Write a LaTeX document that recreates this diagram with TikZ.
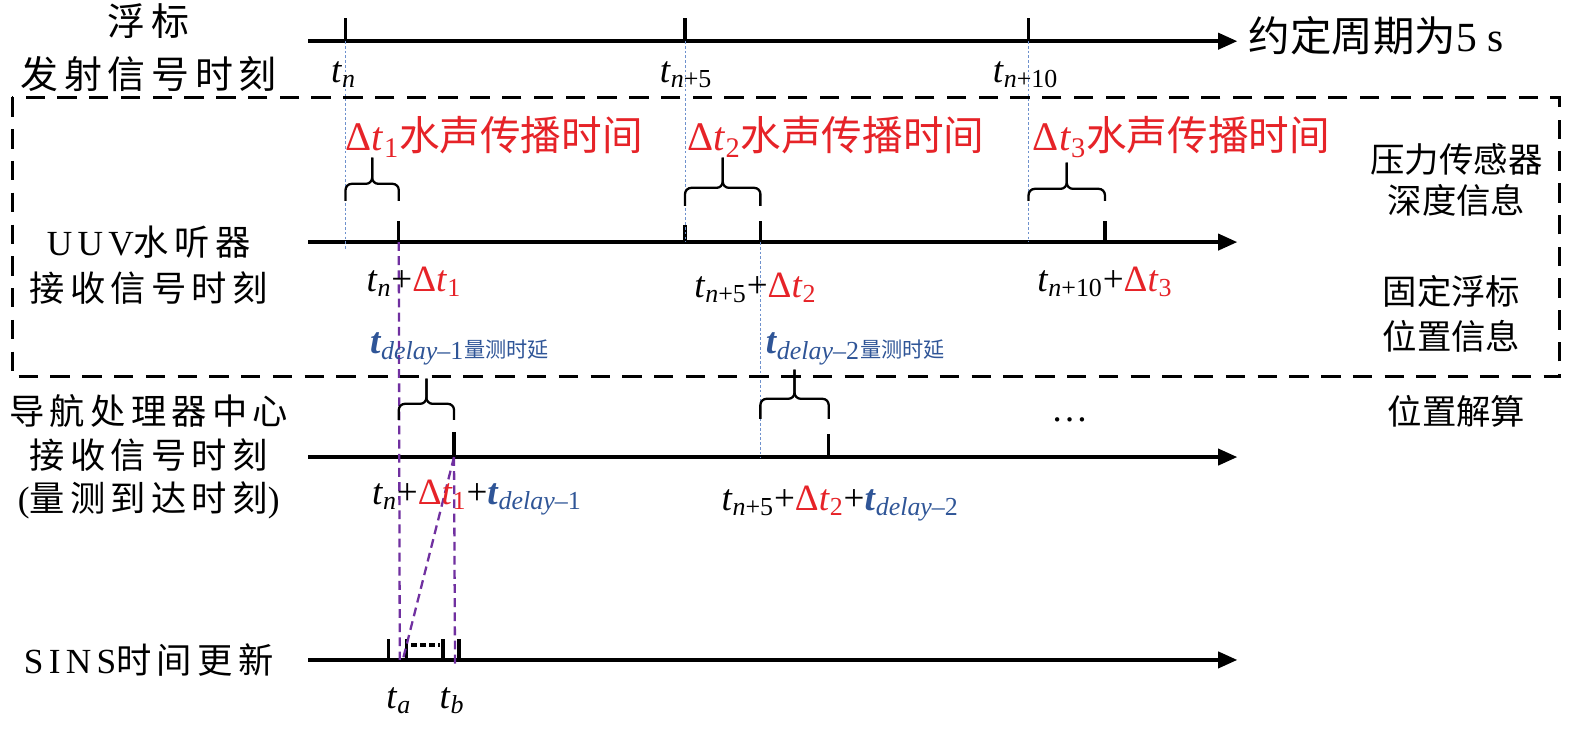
\documentclass[tikz,border=0pt]{standalone}
\usepackage{fontspec}
\setmainfont{Liberation Serif}
\newfontfamily\cjk{Noto Sans CJK SC}
\newfontfamily\cjkwide[LetterSpace=15]{Noto Sans CJK SC}
\newfontfamily\rmwide[LetterSpace=15]{Liberation Serif}
\usepackage{xcolor}
\usetikzlibrary{arrows.meta,positioning}

\definecolor{dtred}{RGB}{230,35,40}
\definecolor{delayblue}{RGB}{47,85,151}
\definecolor{guideblue}{RGB}{110,145,205}
\definecolor{lagpurple}{RGB}{112,48,160}

\newcommand{\tv}[1]{\textit{t}\textsubscript{#1}}
\newcommand{\dt}[1]{\textcolor{dtred}{\symbol{"0394}\tv{#1}}}
\newcommand{\td}[1]{\textcolor{delayblue}{\textbf{\textit{t}}\textsubscript{\textit{delay}–#1}}}
% brace over an interval: x1, x2, foot, bar, tip
\newcommand{\timebrace}[5]{%
  \draw[brc] (#1,#3) -- (#1,#4) -- ({(#1+#2)/2},#4) -- ({(#1+#2)/2},#5);
  \draw[brc] (#2,#3) -- (#2,#4) -- ({(#1+#2)/2},#4) -- ({(#1+#2)/2},#5);}

\begin{document}
\begin{tikzpicture}[x=0.02cm,y=-0.02cm,font=\fontsize{21}{25}\selectfont,
  axis/.style={line width=2.4pt,-{Triangle[length=11pt,width=9pt]}},
  tickmark/.style={line width=1.8pt},
  guide/.style={guideblue,line width=0.6pt,dash pattern=on 1.5pt off 1.2pt},
  lag/.style={lagpurple,line width=1.3pt,dash pattern=on 5pt off 3pt},
  brc/.style={line width=1.3pt,rounded corners=3.5pt},
  rowlabel/.style={align=center,inner sep=0pt},
  sidelabel/.style={align=center,inner sep=0pt},
  redlabel/.style={anchor=base west,inner sep=0pt,text=dtred,font=\fontsize{23}{26}\selectfont},
  timelabel/.style={anchor=base,inner sep=0pt}]
    \useasboundingbox (0,0) rectangle (1568,725);

    % Row names on the left and notes on the right
    \node[rowlabel,font=\fontsize{21.5}{30}\selectfont\cjkwide] (buoy) at (148,47) {浮标\\发射信号时刻};
    \node[rowlabel,font=\fontsize{20}{26}\selectfont\cjkwide] (uuv) at (148,264) {{\rmwide UUV}水听器\\接收信号时刻};
    \node[rowlabel,font=\fontsize{20}{24.7}\selectfont\cjkwide] (nav) at (148,455) {导航处理器中心\\接收信号时刻\\{\rmwide(}量测到达时刻{\rmwide)}};
    \node[rowlabel,font=\fontsize{20}{24}\selectfont\cjkwide] (sins) at (148,657) {{\rmwide SINS}时间更新};
    \node[sidelabel,font=\fontsize{19.5}{23}\selectfont\cjk] (depth) at (1450,179) {压力传感器\\深度信息};
    \node[sidelabel,font=\fontsize{19.5}{25.5}\selectfont\cjk] (fixpos) at (1445,312) {固定浮标\\位置信息};
    \node[sidelabel,font=\fontsize{19.5}{23}\selectfont\cjk] (solve) at (1450,410) {位置解算};
    \node[anchor=base west,inner sep=0pt,font=\fontsize{23.5}{27}\selectfont] (period) at (1243,51) {{\cjk 约定周期为}5 s};

    % Time axes
    \draw[axis] (307,41) coordinate (emit) -- (1232,41);
    \draw[axis] (307,241) coordinate (recv) -- (1232,241);
    \draw[axis] (307,455) coordinate (proc) -- (1232,455);
    \draw[axis] (307,657) coordinate (upd) -- (1232,657);

    \coordinate (e1) at (344,41);  \coordinate (e2) at (682,41);  \coordinate (e3) at (1024,41);
    \coordinate (r0) at (682,241); \coordinate (r1) at (397,241); \coordinate (r2) at (757,241); \coordinate (r3) at (1100,241);
    \coordinate (n1) at (452,455); \coordinate (n2) at (825,455);
    \coordinate (s1) at (387,657); \coordinate (s2) at (405,657); \coordinate (s3) at (441,657); \coordinate (s4) at (457,657);
    \coordinate (ta) at (398,657); \coordinate (tb) at (453,662); \coordinate (tc) at (401,657);

    % Ticks
    \draw[tickmark] (e1) -- ++(0,-23);
    \draw[tickmark] (e2) -- ++(0,-23);
    \draw[tickmark] (e3) -- ++(0,-23);
    \draw[tickmark] (r0) -- ++(0,-17);
    \draw[tickmark] (r1) -- ++(0,-21);
    \draw[tickmark] (r2) -- ++(0,-21);
    \draw[tickmark] (r3) -- ++(0,-21);
    \draw[tickmark] (n1) -- ++(0,-25);
    \draw[tickmark] (n2) -- ++(0,-23);
    \draw[tickmark] (s1) -- ++(0,-21);
    \draw[tickmark] (s2) -- ++(0,-21);
    \draw[tickmark] (s3) -- ++(0,-21);
    \draw[tickmark] (s4) -- ++(0,-21);
    \draw[line width=1.9pt,dash pattern=on 3.5pt off 1.7pt] (409,642) -- (438,642);

    % Guide lines
    \draw[guide] (e1) -- ++(0,207);
    \draw[guide] (e2) -- (r0);
    \draw[guide] (e3) -- (e3 |- r3);
    \draw[guide] (r2) -- (r2 |- n1);
    \draw[lag] (r1) -- (ta);
    \draw[lag] (n1) -- (tb);
    \draw[lag] (n1) -- (tc);

    % Braces
    \timebrace{344}{397}{200}{183}{157}
    \timebrace{682}{757}{205}{187}{157}
    \timebrace{1024}{1100}{200}{188}{162}
    \timebrace{397}{452}{418}{402}{377}
    \timebrace{757}{825}{417}{397}{368}

    % Dashed frame
    \draw[line width=1.7pt,dash pattern=on 11pt off 7pt] (12,97) rectangle (1553,375);

    % Time labels
    \node[timelabel] (ltn) at (342,82) {\tv{\textit{n}}};
    \node[timelabel] (ltn5) at (683,82) {\tv{\textit{n}+5}};
    \node[timelabel] (ltn10) at (1021,82) {\tv{\textit{n}+10}};
    \node[redlabel] (prop1) at (344,150) {\symbol{"0394}\tv{1}{\cjk 水声传播时间}};
    \node[redlabel] (prop2) at (684,150) {\symbol{"0394}\tv{2}{\cjk 水声传播时间}};
    \node[redlabel] (prop3) at (1028,150) {\symbol{"0394}\tv{3}{\cjk 水声传播时间}};
    \node[timelabel] (rx1) at (412,290) {\tv{\textit{n}}+\dt{1}};
    \node[timelabel] (rx2) at (752,296) {\tv{\textit{n}+5}+\dt{2}};
    \node[timelabel] (rx3) at (1100,290) {\tv{\textit{n}+10}+\dt{3}};
    \node[anchor=base west,inner sep=0pt] (lag1) at (368,352) {\td{1}\raisebox{-2.5pt}{\textcolor{delayblue}{\cjk\fontsize{12}{14}\selectfont 量测时延}}};
    \node[anchor=base west,inner sep=0pt] (lag2) at (762,352) {\td{2}\raisebox{-2.5pt}{\textcolor{delayblue}{\cjk\fontsize{12}{14}\selectfont 量测时延}}};
    \node[anchor=base west,inner sep=0pt] (arr1) at (370,502) {\tv{\textit{n}}+\dt{1}+\td{1}};
    \node[anchor=base west,inner sep=0pt] (arr2) at (718,508) {\tv{\textit{n}+5}+\dt{2}+\td{2}};
    \node (more) at (1065,418) {\dots};
    \node[timelabel] (lta) at (397,705) {\tv{\textit{a}}};
    \node[timelabel] (ltb) at (450,705) {\tv{\textit{b}}};
\end{tikzpicture}
\end{document}
